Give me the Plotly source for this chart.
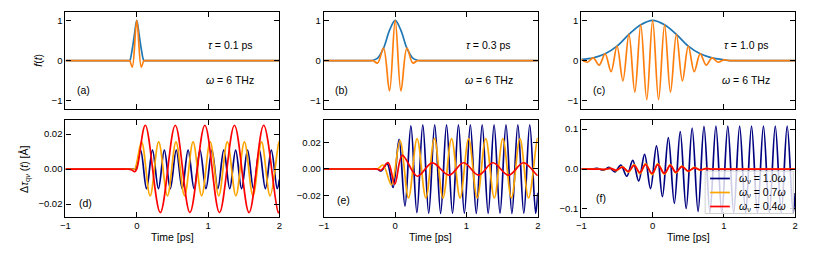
import plotly.graph_objects as go

# ---------------- data ----------------
# top row: envelope (blue) and pulse (orange), time in ps
a_env_t = [-1, -0.5, -0.25, -0.16, -0.12, -0.1, -0.065, -0.035, 0, 0.035, 0.065, 0.1, 0.12, 0.16, 0.25, 0.5, 1, 1.5, 2]
a_env_v = [0, 0, 0, 0, 0, 0, 0.27, 0.62, 1, 0.62, 0.27, 0, 0, 0, 0, 0, 0, 0, 0]
a_pul_t = [-1, -0.5, -0.25, -0.16, -0.12, -0.1, -0.063, 0, 0.063, 0.1, 0.12, 0.16, 0.25, 0.5, 1, 1.5, 2]
a_pul_v = [0, 0, 0, 0, 0, 0, -0.16, 1, -0.16, 0, 0, 0, 0, 0, 0, 0, 0]

b_env_t = [-1, -0.6, -0.45, -0.38, -0.34, -0.31, -0.247, -0.164, -0.08, 0, 0.08, 0.164, 0.247, 0.31, 0.34,
           0.38, 0.45, 0.6, 1, 1.5, 2]
b_env_v = [0, 0, 0, 0, 0, 0.01, 0.06, 0.31, 0.75, 1, 0.75, 0.31, 0.06, 0.01, 0, 0, 0, 0, 0, 0, 0]
b_pul_t = [-1, -0.6, -0.45, -0.38, -0.34, -0.31, -0.247, -0.164, -0.08, 0, 0.08, 0.164, 0.247, 0.31, 0.34,
           0.38, 0.45, 0.6, 1, 1.5, 2]
b_pul_v = [0, 0, 0, 0, 0, 0, -0.06, 0.31, -0.75, 1, -0.75, 0.31, -0.06, 0, 0, 0, 0, 0, 0, 0, 0]

c_env_t = [-1, -0.833, -0.667, -0.5, -0.333, -0.167, 0, 0.167, 0.333, 0.5, 0.667, 0.833, 1.0, 1.08, 1.16,
           1.3, 1.5, 2]
c_env_v = [0.03, 0.07, 0.17, 0.36, 0.65, 0.89, 1, 0.89, 0.65, 0.36, 0.17, 0.07, 0.02, 0, 0, 0, 0, 0]
c_pul_t = [-1, -0.917, -0.833, -0.75, -0.667, -0.583, -0.5, -0.417, -0.333, -0.25, -0.167, -0.083, 0,
           0.083, 0.167, 0.25, 0.333, 0.417, 0.5, 0.583, 0.667, 0.75, 0.833, 0.917, 1.0, 1.08, 1.16, 1.3,
           1.5, 2]
c_pul_v = [0.03, -0.04, 0.07, -0.11, 0.17, -0.27, 0.36, -0.5, 0.65, -0.78, 0.89, -0.97, 1,
           -0.97, 0.89, -0.78, 0.65, -0.5, 0.36, -0.27, 0.17, -0.11, 0.07, -0.04, 0.02, 0, 0, 0, 0, 0]

# bottom row: extrema of the responses
d_blue_t = [-1, -0.6, -0.35, -0.2, -0.1, -0.05, -0.02, 0.053, 0.137, 0.22, 0.304, 0.387, 0.47, 0.554, 0.637,
            0.72, 0.804, 0.887, 0.97, 1.054, 1.137, 1.22, 1.304, 1.387, 1.47, 1.554, 1.637, 1.72, 1.804,
            1.887, 1.97, 2.0]
d_blue_v = [0, 0, 0, 0, 0, 0, 0, 0.0108, -0.0112, 0.0108, -0.0112, 0.0108, -0.0112, 0.0108, -0.0112,
            0.0108, -0.0112, 0.0108, -0.0112, 0.0108, -0.0112, 0.0108, -0.0112, 0.0108, -0.0112, 0.0108,
            -0.0112, 0.0108, -0.0112, 0.0108, -0.0112, -0.006]
d_orng_t = [-1, -0.6, -0.35, -0.2, -0.12, -0.07, -0.03, 0.067, 0.187, 0.307, 0.43, 0.55, 0.67, 0.79, 0.91,
            1.03, 1.15, 1.27, 1.39, 1.51, 1.63, 1.75, 1.87, 1.995, 2.0]
d_orng_v = [0, 0, 0, 0, 0, 0, 0, 0.0155, -0.0153, 0.0155, -0.0153, 0.0155, -0.0153, 0.0155, -0.0153,
            0.0155, -0.0153, 0.0155, -0.0153, 0.0155, -0.0153, 0.0155, -0.0153, 0.0155, 0.0155]
d_red_t = [-1, -0.6, -0.35, -0.2, -0.12, -0.07, -0.03, 0.0, 0.12, 0.33, 0.54, 0.745, 0.955, 1.16, 1.37,
           1.575, 1.78, 1.985, 2.0]
d_red_v = [0, 0, 0, 0, 0, -0.0005, -0.0015, 0.0, 0.025, -0.0248, 0.025, -0.0248, 0.025, -0.0248, 0.025,
           -0.0248, 0.025, -0.0248, -0.0246]

e_blue_t = [-1, -0.7, -0.5, -0.38, -0.3, -0.25, -0.196, -0.113, -0.03, 0.054, 0.137, 0.22, 0.304, 0.387,
            0.47, 0.554, 0.637, 0.72, 0.804, 0.887, 0.97, 1.054, 1.137, 1.22, 1.304, 1.387, 1.47, 1.554,
            1.637, 1.72, 1.804, 1.887, 1.97, 2.0]
e_blue_v = [0, 0, 0, 0, 0, 0, -0.0015, 0.004, -0.014, 0.0223, -0.028, 0.0325, -0.033, 0.0334, -0.0335,
            0.0334, -0.0335, 0.0334, -0.0335, 0.0334, -0.0335, 0.0334, -0.0335, 0.0334, -0.0335, 0.0334,
            -0.0335, 0.0334, -0.0335, 0.0334, -0.0335, 0.0334, -0.0335, -0.018]
e_orng_t = [-1, -0.7, -0.5, -0.38, -0.3, -0.25, -0.17, -0.053, 0.067, 0.187, 0.307, 0.43, 0.55, 0.67, 0.79,
            0.91, 1.03, 1.15, 1.27, 1.39, 1.51, 1.63, 1.75, 1.87, 1.995, 2.0]
e_orng_v = [0, 0, 0, 0, 0, 0, 0.003, -0.012, 0.0214, -0.0219, 0.0229, -0.0219, 0.0229, -0.0219, 0.0229,
            -0.0219, 0.0229, -0.0219, 0.0229, -0.0219, 0.0229, -0.0219, 0.0229, -0.0219, 0.0229, 0.0229]
e_red_t = [-1, -0.7, -0.5, -0.38, -0.3, -0.26, -0.2, -0.099, -0.006, 0.1, 0.31, 0.52, 0.755, 0.96, 1.17,
           1.37, 1.59, 1.80, 1.99, 2.0]
e_red_v = [0, 0, 0, 0, 0, 0, -0.001, 0.0048, -0.0115, 0.0103, -0.0055, 0.0046, -0.0047, 0.0047, -0.0047,
           0.0047, -0.0047, 0.0047, -0.0046, -0.0046]

f_blue_t = [-1, -0.95, -0.9, -0.86, -0.779, -0.696, -0.612, -0.529, -0.446, -0.363, -0.279, -0.196, -0.113,
            -0.03, 0.054, 0.137, 0.22, 0.304, 0.387, 0.47, 0.554, 0.637, 0.72, 0.804, 0.887, 0.97, 1.054,
            1.137, 1.22, 1.304, 1.387, 1.47, 1.554, 1.637, 1.72, 1.804, 1.887, 1.97, 2.0]
f_blue_v = [0, 0, 0, 0, 0.0015, -0.003, 0.004, -0.007, 0.010, -0.018, 0.022, -0.030, 0.037, -0.049, 0.058,
            -0.069, 0.079, -0.086, 0.094, -0.099, 0.103, -0.106, 0.107, -0.109, 0.108, -0.110, 0.108,
            -0.110, 0.108, -0.110, 0.108, -0.110, 0.108, -0.110, 0.108, -0.110, 0.108, -0.110, -0.06]
f_osc_t = [-1, -0.9, -0.8, -0.74, -0.68, -0.59, -0.51, -0.423, -0.34, -0.26, -0.178, -0.1, -0.007, 0.072,
           0.165, 0.248, 0.326, 0.41, 0.50, 0.585, 0.664, 0.75, 0.83, 0.9, 1.0, 1.2, 1.5, 2]
f_orng_v = [0, 0, 0, 0, -0.0015, 0.002, -0.004, 0.006, -0.008, 0.011, -0.012, 0.0135, -0.014, 0.0135,
            -0.013, 0.011, -0.010, 0.0075, -0.006, 0.004, -0.0025, 0.0015, 0, 0, 0, 0, 0, 0]
f_red_v = [0, 0, 0, 0, -0.001, 0.0015, -0.003, 0.005, -0.006, 0.009, -0.009, 0.011, -0.011, 0.011,
           -0.011, 0.009, -0.008, 0.006, -0.005, 0.003, -0.002, 0.001, 0, 0, 0, 0, 0, 0]

x_tickvals = [-1, 0, 1, 2]
x_ticktext = ["\u22121", "0", "1", "2"]
top_tickvals = [-1, 0, 1]
top_ticktext = ["\u22121", "0", "1"]
de_tickvals = [-0.02, 0.0, 0.02]
de_ticktext = ["\u22120.02", "0.00", "0.02"]
f_tickvals = [-0.1, 0.0, 0.1]
f_ticktext = ["\u22120.1", "0.0", "0.1"]

tau_labels = ["<i>\u03c4</i> = 0.1 ps", "<i>\u03c4</i> = 0.3 ps", "<i>\u03c4</i> = 1.0 ps"]
omega_label = "<i>\u03c9</i> = 6 THz"
panel_labels = ["(a)", "(b)", "(c)", "(d)", "(e)", "(f)"]
legend_names = ["<i>\u03c9</i><sub>\u03bd</sub> = 1.0<i>\u03c9</i>",
                "<i>\u03c9</i><sub>\u03bd</sub> = 0.7<i>\u03c9</i>",
                "<i>\u03c9</i><sub>\u03bd</sub> = 0.4<i>\u03c9</i>"]

# ---------------- figure ----------------
FONT = "Liberation Sans, Arial, Helvetica, sans-serif"
C_BLUE, C_ORNG = "#1f77b4", "#ff7f0e"
C_NAVY, C_ORN2, C_RED = "#000080", "#ffa500", "#ff0000"
BOTTOM_COLORS = [C_NAVY, C_ORN2, C_RED]

W, H = 814, 255
OFF = 8  # page body margin


def px(p):
    return (p - OFF) / W


def py(p):
    return (H - (p - OFF)) / H


fig = go.Figure()

xdom = [(px(61), px(277)), (px(322), px(538)), (px(582), px(798))]
ydom_top = (py(109), py(12.3))
ydom_bot = (py(217.3), py(120))


def line(t, v, color, ax, name=None, width=1.7):
    fig.add_trace(go.Scatter(
        x=t, y=v, mode="lines", line=dict(color=color, width=width, shape="spline", smoothing=1.0),
        xaxis="x" + ax, yaxis="y" + ax, name=name, showlegend=False, hoverinfo="skip"))


top = [(a_env_t, a_env_v, a_pul_t, a_pul_v), (b_env_t, b_env_v, b_pul_t, b_pul_v),
       (c_env_t, c_env_v, c_pul_t, c_pul_v)]
for i, (et, ev, pt, pv) in enumerate(top):
    ax = str(i + 1)
    line(et, ev, C_BLUE, ax)
    line(pt, pv, C_ORNG, ax)

bottom = [
    ((d_blue_t, d_blue_v), (d_orng_t, d_orng_v), (d_red_t, d_red_v)),
    ((e_blue_t, e_blue_v), (e_orng_t, e_orng_v), (e_red_t, e_red_v)),
    ((f_blue_t, f_blue_v), (f_osc_t, f_orng_v), (f_osc_t, f_red_v)),
]
for i, series in enumerate(bottom):
    ax = str(i + 4)
    for j, ((t, v), c) in enumerate(zip(series, BOTTOM_COLORS)):
        line(t, v, c, ax, name=legend_names[j])

common = dict(showline=True, linecolor="black", linewidth=1.3, mirror="ticks", ticks="inside",
              ticklen=5, tickwidth=1.3, tickcolor="black", showgrid=False, zeroline=False,
              tickfont=dict(family=FONT, size=9.5, color="black"))

layout = dict(width=W, height=H, margin=dict(l=0, r=0, t=0, b=0),
              plot_bgcolor="white", paper_bgcolor="white", showlegend=False,
              font=dict(family=FONT, size=10.5, color="black"))

yranges = [[-1.2, 1.2], [-1.2, 1.2], [-1.2, 1.2], [-0.0275, 0.028], [-0.0365, 0.037], [-0.121, 0.123]]
yticks = [(top_tickvals, top_ticktext)] * 3 + [(de_tickvals, de_ticktext), (de_tickvals, de_ticktext),
                                               (f_tickvals, f_ticktext)]
for k in range(6):
    n = "" if k == 0 else str(k + 1)
    col = k % 3
    is_top = k < 3
    layout["xaxis" + n] = dict(common, domain=xdom[col], range=[-1, 2], tickvals=x_tickvals,
                               ticktext=x_ticktext, showticklabels=not is_top,
                               ticklabelstandoff=-1, anchor="y" + n)
    layout["yaxis" + n] = dict(common, domain=ydom_top if is_top else ydom_bot, range=yranges[k],
                               tickvals=yticks[k][0], ticktext=yticks[k][1], anchor="x" + n)

fig.update_layout(**layout)

C = dict(xanchor="center", yanchor="middle", showarrow=False)
ann = []
for i in range(3):
    xr = "x" if i == 0 else "x" + str(i + 1)
    yr = "y" if i == 0 else "y" + str(i + 1)
    ann.append(dict(C, x=1.31, y=0.38, xref=xr, yref=yr, text=tau_labels[i]))
    ann.append(dict(C, x=1.31, y=-0.49, xref=xr, yref=yr, text=omega_label))
    ann.append(dict(C, x=-0.75, y=-0.74, xref=xr, yref=yr, text=panel_labels[i]))
bot_lbl_y = [0.15, 0.18, 0.195]
for i in range(3):
    ax = str(i + 4)
    ann.append(dict(C, x=-0.72, y=bot_lbl_y[i], xref="x" + ax, yref="y" + ax + " domain",
                    text=panel_labels[i + 3]))
    cx = (xdom[i][0] + xdom[i][1]) / 2
    ann.append(dict(C, x=cx, y=py(237), xref="paper", yref="paper", text="Time [ps]"))
ann.append(dict(C, x=px(33), y=py(60), xref="paper", yref="paper", text="<i>f</i>(<i>t</i>)",
                textangle=-90))
ann.append(dict(C, x=px(20), y=py(169), xref="paper", yref="paper",
                text="\u0394<i>\u03c4</i><sub>q<i>\u03bd</i></sub> (<i>t</i>) [\u00c5]",
                textangle=-90))

# legend of panel (f): frame, line keys and labels
shapes = [dict(type="rect", xref="paper", yref="paper", x0=px(707), x1=px(796), y0=py(213.5), y1=py(171),
               fillcolor="rgba(255,255,255,0.8)", line=dict(color="#d0d0d0", width=1), layer="above")]
leg_rows = [178.5, 192.5, 206.5]
for j in range(3):
    shapes.append(dict(type="line", xref="paper", yref="paper", x0=px(712), x1=px(732),
                       y0=py(leg_rows[j]), y1=py(leg_rows[j]), line=dict(color=BOTTOM_COLORS[j], width=1.7),
                       layer="above"))
    ann.append(dict(x=px(739), y=py(leg_rows[j]), xref="paper", yref="paper", xanchor="left",
                    yanchor="middle", text=legend_names[j], showarrow=False))

fig.update_layout(annotations=ann, shapes=shapes)

fig.write_html("out.html")
